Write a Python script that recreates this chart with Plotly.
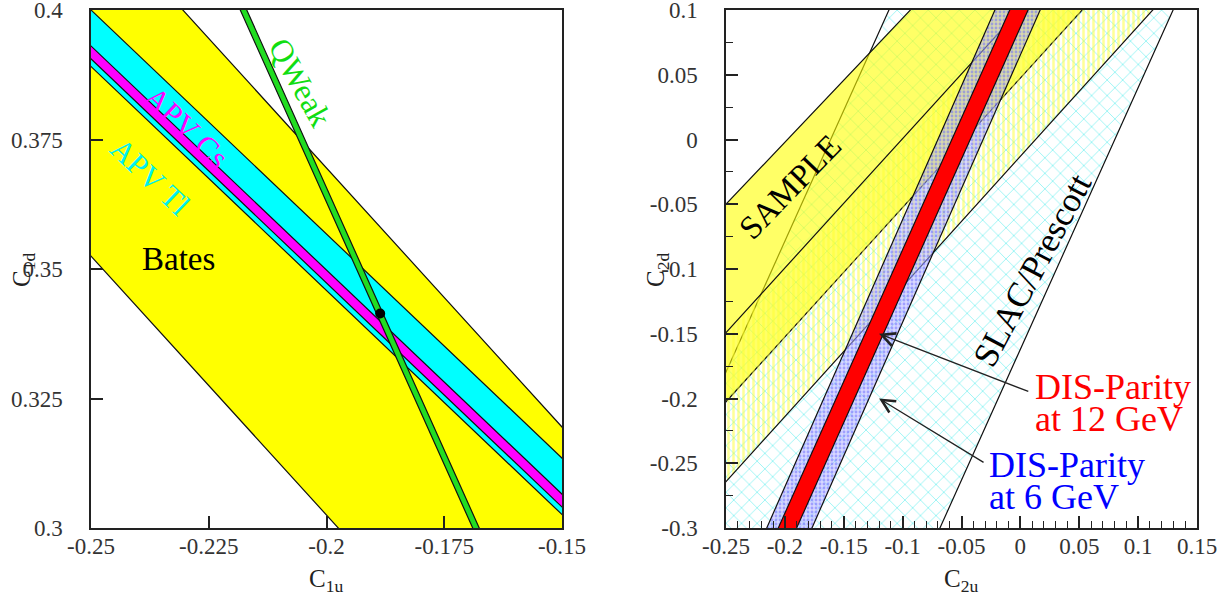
import plotly.graph_objects as go

# ---------------- data ----------------
# Left panel: C1u (x) vs C1d (y). Each band: lines y = slope*x + intercept
bates_slope = -1.0
bates_icpt = [0.1025, 0.1695]
apv_tl_slope = -0.865
apv_tl_icpt = [0.17285, 0.18375]
apv_cs_slope = -0.865
apv_cs_icpt = [0.1743, 0.1768]
qweak_slope = -2.026
qweak_icpt = [-0.0423, -0.0395]
sm_point = [-0.1886, 0.3414]

# Right panel: C2u (x) vs C2d (y)
slac_slope = 2.02
slac_icpt = [-0.162, 0.3255]
sample_lines = [(0.958, 0.1895), (1.0, 0.0475)]      # (slope, intercept)
hatch_lines = [(0.999, 0.1006), (1.005, -0.013)]
dis6_slope = 2.064
dis6_icpt = [0.0653, 0.1446]
dis12_slope = 2.035
dis12_icpt = [0.0867, 0.1184]

arrow12 = dict(head=(-0.12, -0.15), tail=(0.008, -0.195))
arrow6 = dict(head=(-0.12, -0.20), tail=(-0.03, -0.25))

left_xticks = [-0.25, -0.225, -0.2, -0.175, -0.15]
left_xtext = ["-0.25", "-0.225", "-0.2", "-0.175", "-0.15"]
left_yticks = [0.3, 0.325, 0.35, 0.375, 0.4]
left_ytext = ["0.3", "0.325", "0.35", "0.375", "0.4"]
right_xticks = [-0.25, -0.2, -0.15, -0.1, -0.05, 0, 0.05, 0.1, 0.15]
right_xtext = ["-0.25", "-0.2", "-0.15", "-0.1", "-0.05", "0", "0.05", "0.1", "0.15"]
right_yticks = [-0.3, -0.25, -0.2, -0.15, -0.1, -0.05, 0, 0.05, 0.1]
right_ytext = ["-0.3", "-0.25", "-0.2", "-0.15", "-0.1", "-0.05", "0", "0.05", "0.1"]

# ---------------- layout geometry ----------------
W, H = 1228, 598
LX0, LX1 = 91, 562
RX0, RX1 = 726, 1197
YT, YB = 10, 528
SERIF = "Liberation Serif"


def band(l1, l2, ylo, yhi):
    (s1, b1), (s2, b2) = l1, l2
    ys = [ylo, yhi, yhi, ylo, ylo]
    xs = [(ylo - b1) / s1, (yhi - b1) / s1, (yhi - b2) / s2, (ylo - b2) / s2, (ylo - b1) / s1]
    return xs, ys


fig = go.Figure()


def add_band(l1, l2, ylo, yhi, xa, ya, fillcolor="rgba(0,0,0,0)", pattern=None, lw=1.2):
    xs, ys = band(l1, l2, ylo, yhi)
    kw = dict(x=xs, y=ys, mode="lines", fill="toself", fillcolor=fillcolor,
              line=dict(color="#111", width=lw), xaxis=xa, yaxis=ya,
              hoverinfo="skip", showlegend=False)
    if pattern:
        kw["fillpattern"] = pattern
    fig.add_trace(go.Scatter(**kw))


# left panel
add_band((bates_slope, bates_icpt[0]), (bates_slope, bates_icpt[1]), 0.2, 0.5, "x", "y", "#ffff00")
add_band((apv_tl_slope, apv_tl_icpt[0]), (apv_tl_slope, apv_tl_icpt[1]), 0.2, 0.5, "x", "y", "#00ffff")
add_band((apv_cs_slope, apv_cs_icpt[0]), (apv_cs_slope, apv_cs_icpt[1]), 0.2, 0.5, "x", "y", "#ff00ff")
add_band((qweak_slope, qweak_icpt[0]), (qweak_slope, qweak_icpt[1]), 0.2, 0.5, "x", "y", "#22dd22")
fig.add_trace(go.Scatter(x=[sm_point[0]], y=[sm_point[1]], mode="markers",
                         marker=dict(color="black", size=10), xaxis="x", yaxis="y",
                         hoverinfo="skip", showlegend=False))

# right panel
add_band((slac_slope, slac_icpt[0]), (slac_slope, slac_icpt[1]), -0.5, 0.3, "x2", "y2",
         pattern=dict(shape="x", fgcolor="#30eaea", bgcolor="rgba(0,0,0,0)", size=11, solidity=0.16))
add_band(sample_lines[0], sample_lines[1], -0.5, 0.3, "x2", "y2", "rgba(255,255,0,0.6)")
add_band(hatch_lines[0], hatch_lines[1], -0.5, 0.3, "x2", "y2",
         pattern=dict(shape="|", fgcolor="#ffff30", bgcolor="rgba(0,0,0,0)", size=5, solidity=0.5))
add_band((dis6_slope, dis6_icpt[0]), (dis6_slope, dis6_icpt[1]), -0.5, 0.3, "x2", "y2",
         pattern=dict(shape=".", fgcolor="#6a6aff", bgcolor="rgba(175,175,255,0.5)", size=4, solidity=0.4))
add_band((dis12_slope, dis12_icpt[0]), (dis12_slope, dis12_icpt[1]), -0.5, 0.3, "x2", "y2", "#ff0000")

# ---------------- axes ----------------
common = dict(showgrid=False, zeroline=False, showline=True, linecolor="#222", linewidth=1.5,
              mirror=True, ticks="inside", ticklen=12, tickwidth=1.5, tickcolor="#222",
              tickfont=dict(family=SERIF, size=23, color="#333"), tickmode="array",
              automargin=False, ticklabeloverflow="allow")

ydom = [1 - YB / H, 1 - YT / H]
fig.update_layout(
    xaxis=dict(domain=[LX0 / W, LX1 / W], range=[-0.25, -0.15], anchor="y",
               tickvals=left_xticks, ticktext=left_xtext, ticklabelstandoff=-3, **common),
    yaxis=dict(domain=ydom, range=[0.3, 0.4], anchor="x",
               tickvals=left_yticks, ticktext=left_ytext, ticklabelstandoff=22, **common),
    xaxis2=dict(domain=[RX0 / W, RX1 / W], range=[-0.25, 0.15], anchor="y2",
                tickvals=right_xticks, ticktext=right_xtext, ticklabelstandoff=-3,
                minor=dict(ticks="inside", ticklen=7, tickwidth=1.3, tickcolor="#222",
                           tickmode="linear", tick0=0, dtick=0.01), **common),
    yaxis2=dict(domain=ydom, range=[-0.3, 0.1], anchor="x2",
                tickvals=right_yticks, ticktext=right_ytext, ticklabelstandoff=22,
                minor=dict(ticks="inside", ticklen=7, tickwidth=1.3, tickcolor="#222",
                           tickmode="linear", tick0=0, dtick=0.025), **common),
    width=W, height=H, autosize=False,
    margin=dict(l=0, r=0, t=0, b=0, pad=0, autoexpand=False),
    paper_bgcolor="white", plot_bgcolor="white",
    showlegend=False,
)

# ---------------- text ----------------
ann = []


def label(text, x, y, xref, yref, size, color, angle=0, xanchor="center"):
    ann.append(dict(text=text, x=x, y=y, xref=xref, yref=yref, showarrow=False,
                    textangle=angle, xanchor=xanchor, yanchor="middle",
                    font=dict(family=SERIF, size=size, color=color)))


label("Bates", -0.2314, 0.3519, "x", "y", 33, "black")
label("APV Cs", -0.2296, 0.3774, "x", "y", 31, "#ff00ff", 43.6)
label("APV Tl", -0.2375, 0.3678, "x", "y", 31, "#00f0f0", 43.6)
label("QWeak", -0.2056, 0.3861, "x", "y", 32, "#11dd11", 61)
label("SAMPLE", -0.1957, -0.0367, "x2", "y2", 33, "black", -46)
label("SLAC/Prescott", 0.0099, -0.1008, "x2", "y2", 35, "black", -62)
label("DIS-Parity", 0.0107, -0.1915, "x2", "y2", 36, "#ff0000", xanchor="left")
label("at 12 GeV", 0.0107, -0.2162, "x2", "y2", 36, "#ff0000", xanchor="left")
label("DIS-Parity", -0.0283, -0.2513, "x2", "y2", 36, "#0000ff", xanchor="left")
label("at 6 GeV", -0.0283, -0.2764, "x2", "y2", 36, "#0000ff", xanchor="left")

for a in (arrow12, arrow6):
    ann.append(dict(text="", x=a["head"][0], y=a["head"][1], ax=a["tail"][0], ay=a["tail"][1],
                    xref="x2", yref="y2", axref="x2", ayref="y2", showarrow=True,
                    arrowhead=5, arrowsize=2, arrowwidth=1.3, arrowcolor="#222"))

# axis titles (paper coordinates from pixel positions)
def ptitle(text, px, py, angle=0):
    ann.append(dict(text=text, x=px / W, y=1 - py / H, xref="paper", yref="paper",
                    showarrow=False, textangle=angle, xanchor="center", yanchor="middle",
                    font=dict(family=SERIF, size=25, color="#222")))


ptitle("C<sub>1u</sub>", 326, 580)
ptitle("C<sub>2u</sub>", 961, 580)
ptitle("C<sub>1d</sub>", 24, 270, -90)
ptitle("C<sub>2d</sub>", 658, 270, -90)

fig.update_layout(annotations=ann)

fig.write_html("out.html", config={"displayModeBar": False},
               post_script="document.body.style.margin='0';")
